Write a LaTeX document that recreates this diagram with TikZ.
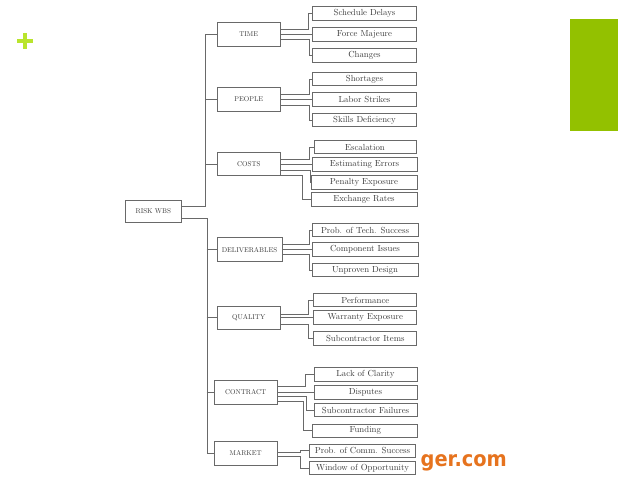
\documentclass[tikz,border=0pt]{standalone}
\usepackage{fontspec}
\newfontfamily\webfont{DejaVu Sans}
\newfontfamily\boxfont{lmroman10-regular.otf}
\usetikzlibrary{calc}
\definecolor{boxgray}{RGB}{105,105,105}
\definecolor{txtgray}{RGB}{60,60,60}
\definecolor{plusgreen}{RGB}{185,228,45}
\definecolor{bargreen}{RGB}{147,193,0}
\definecolor{weborange}{RGB}{230,115,30}
\newcommand\elbow[4]{\draw[conn] ($(#1.east)+(0,#2)$) -- ++(#3,0) |- (#4.west);}
\begin{document}
\begin{tikzpicture}[x=1pt,y=-1pt,
  catbox/.style={draw=boxgray, line width=0.8pt, fill=white, text=txtgray, inner sep=0pt,
    font=\boxfont\fontsize{7}{8}\selectfont, minimum width=63.5pt, minimum height=23.3pt},
  leafbox/.style={draw=boxgray, line width=0.8pt, fill=white, text=txtgray, inner sep=0pt,
    font=\boxfont\fontsize{8.8}{10}\selectfont, minimum width=104pt, minimum height=13.7pt},
  conn/.style={draw=boxgray, line width=0.8pt}]
\useasboundingbox (0,0) rectangle (638,479);
% decorations
\fill[plusgreen] (16.7,39.3) rectangle (33.3,42.8);
\fill[plusgreen] (23.2,32.7) rectangle (26.7,49.3);
\fill[bargreen] (570,19.3) rectangle (617.7,131);
% root
\node[catbox, minimum width=56.5pt, minimum height=21.5pt] (risk) at (153.3,211.3) {RISK WBS};
% categories
\node[catbox] (time) at (248.8,34.3) {TIME};
\node[catbox] (people) at (248.8,99.5) {PEOPLE};
\node[catbox] (costs) at (248.8,164.2) {COSTS};
\node[catbox, minimum width=65pt, minimum height=24pt] (deliv) at (249.5,249.7) {DELIVERABLES};
\node[catbox] (quality) at (248.7,317.7) {QUALITY};
\node[catbox, minimum width=63.3pt, minimum height=24.3pt] (contract) at (245.7,392.2) {CONTRACT};
\node[catbox, minimum width=63.3pt] (market) at (245.7,453.5) {MARKET};
% leaves
\node[leafbox] (sd) at (364.5,13.7) {Schedule Delays};
\node[leafbox] (fm) at (364.5,34.3) {Force Majeure};
\node[leafbox] (ch) at (364.5,55.5) {Changes};
\node[leafbox] (sh) at (364.5,79) {Shortages};
\node[leafbox] (ls) at (364.5,99.5) {Labor Strikes};
\node[leafbox] (sk) at (364.5,120) {Skills Deficiency};
\node[leafbox, minimum width=102pt] (es) at (365,147) {Escalation};
\node[leafbox, minimum width=105pt] (ee) at (364.5,164.2) {Estimating Errors};
\node[leafbox, minimum width=106pt] (pe) at (364,182.3) {Penalty Exposure};
\node[leafbox, minimum width=106pt] (er) at (364,199.5) {Exchange Rates};
\node[leafbox, minimum width=106pt] (pt) at (365,230) {Prob. of Tech. Success};
\node[leafbox, minimum width=106pt] (ci) at (365,249.7) {Component Issues};
\node[leafbox, minimum width=106pt] (ud) at (365,270) {Unproven Design};
\node[leafbox, minimum width=103pt] (pf) at (365.3,300) {Performance};
\node[leafbox, minimum width=103pt] (we) at (365.3,317.7) {Warranty Exposure};
\node[leafbox, minimum width=103pt] (si) at (365.3,338.3) {Subcontractor Items};
\node[leafbox, minimum width=103pt] (lc) at (365.5,374.5) {Lack of Clarity};
\node[leafbox, minimum width=103pt] (di) at (365.5,392.2) {Disputes};
\node[leafbox, minimum width=103pt] (sf) at (365.5,410) {Subcontractor Failures};
\node[leafbox, minimum width=105pt] (fu) at (365.3,430.8) {Funding};
\node[leafbox, minimum width=106pt] (pc) at (362.5,450.8) {Prob. of Comm. Success};
\node[leafbox, minimum width=106pt] (wo) at (362.5,468) {Window of Opportunity};
% trunk
\coordinate (ta) at (205,0);
\coordinate (tb) at (206.7,0);
\draw[conn] ($(risk.east)+(0,-5.3)$) -- ++(23.5,0) |- (time.west);
\draw[conn] (ta |- people.west) -- (people.west);
\draw[conn] (ta |- costs.west) -- (costs.west);
\draw[conn] ($(risk.east)+(0,6.7)$) -- ++(25.2,0) |- (market.west);
\draw[conn] (tb |- deliv.west) -- (deliv.west);
\draw[conn] (tb |- quality.west) -- (quality.west);
\draw[conn] (tb |- contract.west) -- (contract.west);
% category to leaves
\elbow{time}{-5}{27.5}{sd}
\draw[conn] (time.east) -- (fm.west);
\elbow{time}{5.5}{28.5}{ch}
\elbow{people}{-5}{28.5}{sh}
\draw[conn] (people.east) -- (ls.west);
\elbow{people}{5.5}{28.5}{sk}
\elbow{costs}{-5.2}{28.3}{es}
\draw[conn] (costs.east) -- (ee.west);
\elbow{costs}{5.8}{29.3}{pe}
\elbow{costs}{10.8}{21.7}{er}
\elbow{deliv}{-5.7}{27}{pt}
\draw[conn] (deliv.east) -- (ci.west);
\elbow{deliv}{4.5}{27}{ud}
\elbow{quality}{-3.4}{27.6}{pf}
\draw[conn] (quality.east) -- (we.west);
\elbow{quality}{6.6}{27.6}{si}
\elbow{contract}{-5.5}{28}{lc}
\draw[conn] (contract.east) -- (di.west);
\elbow{contract}{4}{28.5}{sf}
\elbow{contract}{9.5}{26}{fu}
\elbow{market}{-0.8}{22.3}{pc}
\elbow{market}{3.2}{22.7}{wo}
% web text
\node[anchor=base west, inner sep=0pt, xscale=0.91, text=weborange,
  font=\webfont\bfseries\fontsize{21.3}{24}\selectfont] (web) at (420.5,466.5) {ger.com};
\end{tikzpicture}
\end{document}
